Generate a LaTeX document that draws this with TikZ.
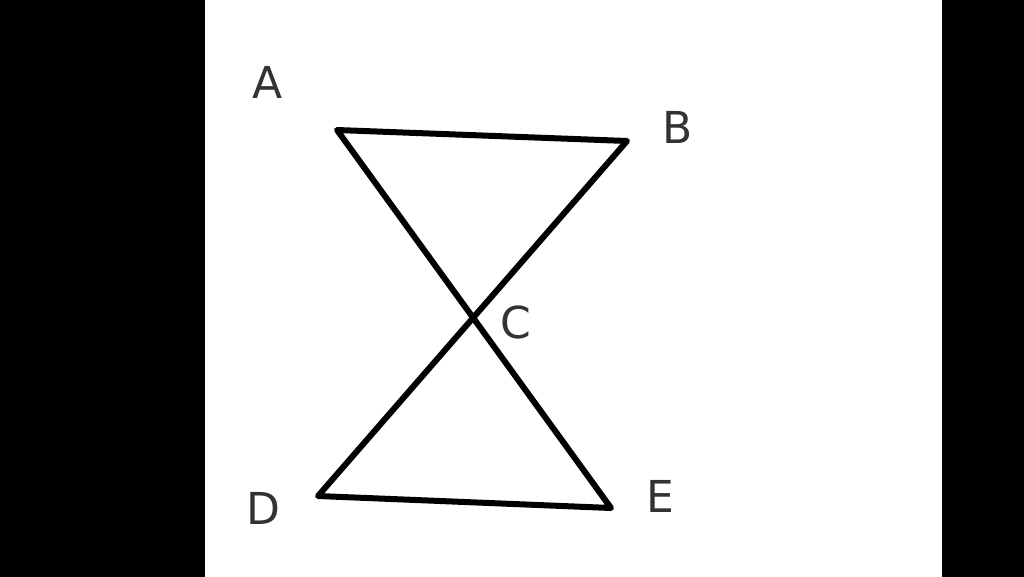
\documentclass[tikz,border=0pt]{standalone}
\usepackage{fontspec}
\setsansfont{DejaVu Sans}
\begin{document}
\begin{tikzpicture}[x=1pt,y=-1pt,
  seg/.style={line width=6pt,line cap=round,line join=round},
  lbl/.style={font=\sffamily\fontsize{44}{44}\selectfont,text=black!80,inner sep=0pt}]
\useasboundingbox (0,0) rectangle (1024,577);
\fill[black] (0,0) rectangle (205,577);
\fill[white] (205,0) rectangle (942,577);
\fill[black] (942,0) rectangle (1024,577);
\coordinate (A) at (337,130);
\coordinate (B) at (627,141);
\coordinate (D) at (318,496);
\coordinate (E) at (611,508);
\draw[seg] (A) -- (B) -- (D) -- (E) -- cycle;
\node[lbl] (la) at (268,82) {A};
\node[lbl] (lb) at (678,127) {B};
\node[lbl] (lc) at (516,322) {C};
\node[lbl] (ld) at (263,508) {D};
\node[lbl] (le) at (660,496) {E};
\end{tikzpicture}
\end{document}
